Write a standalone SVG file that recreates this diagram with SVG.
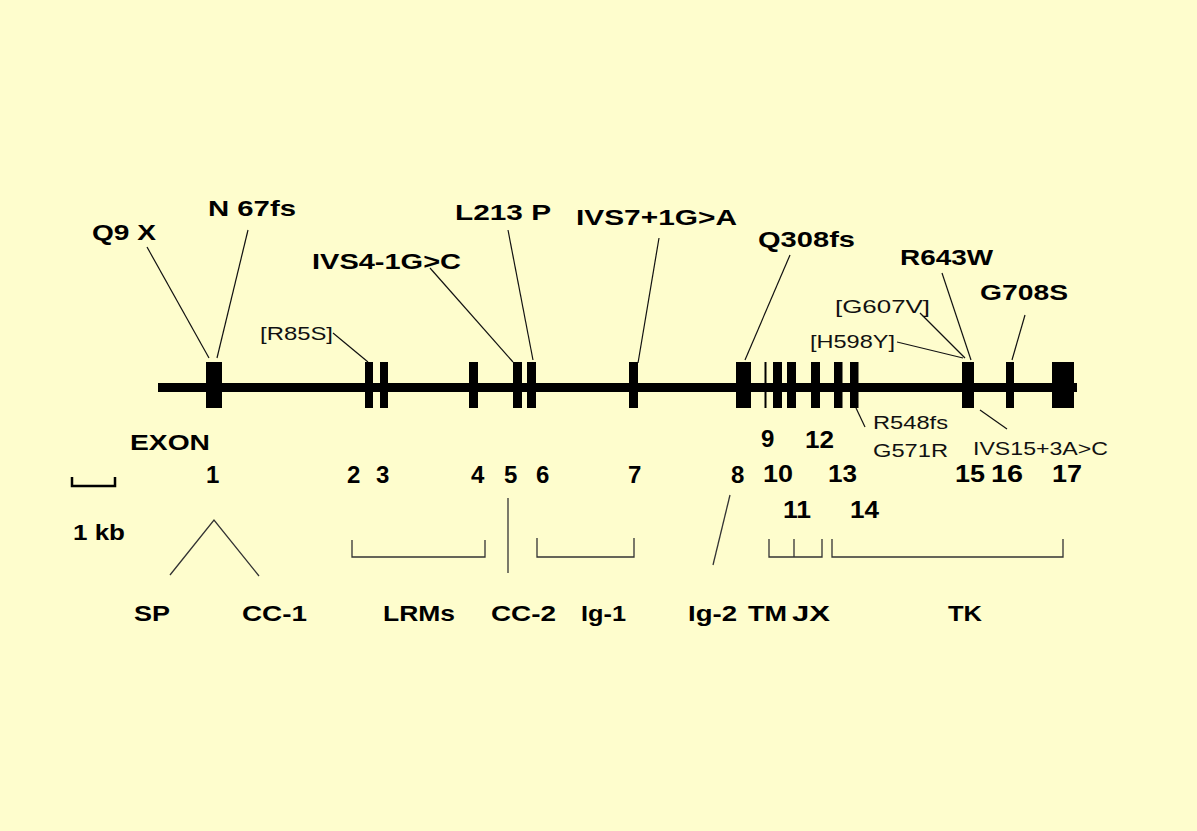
<svg xmlns="http://www.w3.org/2000/svg" width="1197" height="831" viewBox="0 0 1197 831">
<style>
.b{font-family:"Liberation Sans",Arial,sans-serif;font-weight:bold;font-size:22px;fill:#000}
.n{font-family:"Liberation Sans",Arial,sans-serif;font-weight:bold;font-size:24px;fill:#000}
.r{font-family:"Liberation Sans",Arial,sans-serif;font-size:19px;fill:#111}
.c{stroke:#111;stroke-width:1.2;fill:none}
.k{stroke:#333;stroke-width:1.3;fill:none}
.e{fill:#000}
</style>
<rect width="1197" height="831" fill="#FEFDCD"/>
<g id="gene">
<rect x="158" y="383" width="919" height="9" class="e"/>
<rect x="206" y="362" width="16" height="46" class="e"/>
<rect x="365" y="362" width="8" height="46" class="e"/>
<rect x="380" y="362" width="8" height="46" class="e"/>
<rect x="469" y="362" width="9" height="46" class="e"/>
<rect x="513" y="362" width="9" height="46" class="e"/>
<rect x="527" y="362" width="9" height="46" class="e"/>
<rect x="629" y="362" width="9" height="46" class="e"/>
<rect x="736" y="362" width="15" height="46" class="e"/>
<rect x="764.5" y="362" width="2" height="46" class="e"/>
<rect x="773" y="362" width="9" height="46" class="e"/>
<rect x="787" y="362" width="9" height="46" class="e"/>
<rect x="811" y="362" width="9" height="46" class="e"/>
<rect x="834" y="362" width="8.5" height="46" class="e"/>
<rect x="850" y="362" width="8.5" height="46" class="e"/>
<rect x="962" y="362" width="12" height="46" class="e"/>
<rect x="1006" y="362" width="8" height="46" class="e"/>
<rect x="1052" y="362" width="22" height="46" class="e"/>
</g>
<g id="connectors">
<line x1="147" y1="247" x2="209" y2="358" class="c"/>
<line x1="248" y1="230" x2="217" y2="358" class="c"/>
<line x1="333" y1="333" x2="368" y2="362" class="c"/>
<line x1="430" y1="268" x2="513" y2="362" class="c"/>
<line x1="508" y1="230" x2="533" y2="360" class="c"/>
<line x1="659" y1="238" x2="638" y2="363" class="c"/>
<line x1="790" y1="255" x2="745" y2="360" class="c"/>
<line x1="942" y1="273" x2="971" y2="360" class="c"/>
<line x1="1025" y1="315" x2="1012" y2="360" class="c"/>
<line x1="920" y1="313" x2="965" y2="358" class="c" stroke-width="2.2"/>
<line x1="897" y1="342" x2="963" y2="358" class="c"/>
<line x1="856" y1="408" x2="865" y2="427" class="c"/>
<line x1="980" y1="410" x2="1007" y2="429" class="c"/>
<polyline points="170,575 214,520 259,576" class="k"/>
<path d="M352,540 V557 H485 V540" class="k"/>
<line x1="508" y1="498" x2="508" y2="573" class="k"/>
<path d="M537,538 V557 H634 V538" class="k"/>
<line x1="730" y1="495" x2="713" y2="565" class="k"/>
<path d="M769,539 V557 H822 V539 M794,557 V539" class="k"/>
<path d="M832,539 V557 H1063 V539" class="k"/>
<path d="M72,477 V486 H115 V477" stroke="#000" stroke-width="2.5" fill="none"/>
</g>
<g id="mutations">
<text x="92" y="240" class="b" textLength="64" lengthAdjust="spacingAndGlyphs">Q9 X</text>
<text x="208" y="216" class="b" textLength="88" lengthAdjust="spacingAndGlyphs">N 67fs</text>
<text x="312" y="269" class="b" textLength="149" lengthAdjust="spacingAndGlyphs">IVS4-1G&gt;C</text>
<text x="455" y="220" class="b" textLength="96" lengthAdjust="spacingAndGlyphs">L213 P</text>
<text x="576" y="225" class="b" textLength="161" lengthAdjust="spacingAndGlyphs">IVS7+1G&gt;A</text>
<text x="758" y="247" class="b" textLength="97" lengthAdjust="spacingAndGlyphs">Q308fs</text>
<text x="900" y="265" class="b" textLength="93" lengthAdjust="spacingAndGlyphs">R643W</text>
<text x="980" y="300" class="b" textLength="88" lengthAdjust="spacingAndGlyphs">G708S</text>
<text x="260" y="340" class="r" textLength="73" lengthAdjust="spacingAndGlyphs">[R85S]</text>
<text x="835" y="313" class="r" textLength="95" lengthAdjust="spacingAndGlyphs">[G607V]</text>
<text x="810" y="348" class="r" textLength="85" lengthAdjust="spacingAndGlyphs">[H598Y]</text>
<text x="873" y="429" class="r" textLength="75" lengthAdjust="spacingAndGlyphs">R548fs</text>
<text x="873" y="457" class="r" textLength="75" lengthAdjust="spacingAndGlyphs">G571R</text>
<text x="973" y="455" class="r" textLength="135" lengthAdjust="spacingAndGlyphs">IVS15+3A&gt;C</text>
</g>
<g id="exon-numbers">
<text x="130" y="450" class="b" textLength="80" lengthAdjust="spacingAndGlyphs">EXON</text>
<text x="206" y="483" class="n">1</text>
<text x="347" y="483" class="n">2</text>
<text x="376" y="483" class="n">3</text>
<text x="471" y="483" class="n">4</text>
<text x="504" y="483" class="n">5</text>
<text x="536" y="483" class="n">6</text>
<text x="628" y="483" class="n">7</text>
<text x="731" y="483" class="n">8</text>
<text x="761" y="447" class="n">9</text>
<text x="805" y="448" class="n" textLength="29" lengthAdjust="spacingAndGlyphs">12</text>
<text x="763" y="482" class="n" textLength="30" lengthAdjust="spacingAndGlyphs">10</text>
<text x="828" y="482" class="n" textLength="29" lengthAdjust="spacingAndGlyphs">13</text>
<text x="783" y="518" class="n" textLength="28" lengthAdjust="spacingAndGlyphs">11</text>
<text x="850" y="518" class="n" textLength="29" lengthAdjust="spacingAndGlyphs">14</text>
<text x="955" y="482" class="n" textLength="30" lengthAdjust="spacingAndGlyphs">15</text>
<text x="991" y="482" class="n" textLength="32" lengthAdjust="spacingAndGlyphs">16</text>
<text x="1052" y="482" class="n" textLength="30" lengthAdjust="spacingAndGlyphs">17</text>
</g>
<g id="scale">
<text x="73" y="540" class="b" textLength="52" lengthAdjust="spacingAndGlyphs">1 kb</text>
</g>
<g id="domains">
<text x="134" y="621" class="b" textLength="36" lengthAdjust="spacingAndGlyphs">SP</text>
<text x="242" y="621" class="b" textLength="65" lengthAdjust="spacingAndGlyphs">CC-1</text>
<text x="383" y="621" class="b" textLength="72" lengthAdjust="spacingAndGlyphs">LRMs</text>
<text x="491" y="621" class="b" textLength="65" lengthAdjust="spacingAndGlyphs">CC-2</text>
<text x="581" y="621" class="b" textLength="45" lengthAdjust="spacingAndGlyphs">Ig-1</text>
<text x="688" y="621" class="b" textLength="49" lengthAdjust="spacingAndGlyphs">Ig-2</text>
<text x="748" y="621" class="b" textLength="39" lengthAdjust="spacingAndGlyphs">TM</text>
<text x="792" y="621" class="b" textLength="38" lengthAdjust="spacingAndGlyphs">JX</text>
<text x="948" y="621" class="b" textLength="34" lengthAdjust="spacingAndGlyphs">TK</text>
</g>
</svg>
